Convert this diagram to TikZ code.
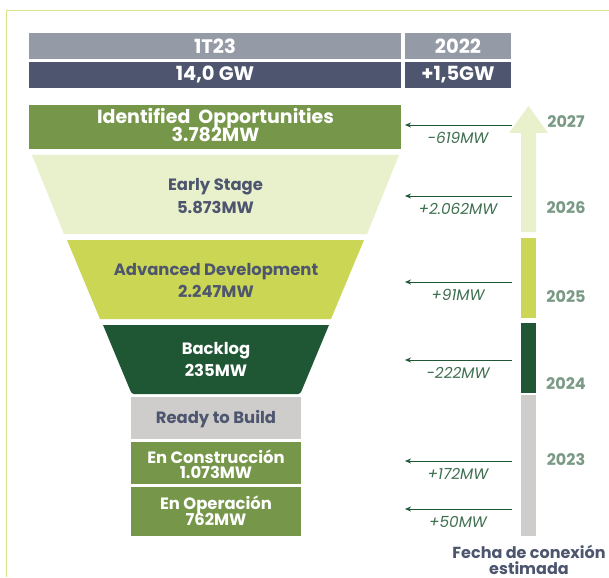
\documentclass[tikz,border=0pt]{standalone}
\usepackage{fontspec}
\setmainfont{Poppins}
\usetikzlibrary{arrows.meta}
\definecolor{hdrgray}{HTML}{959BA6}
\definecolor{hdrdark}{HTML}{4D566E}
\definecolor{olive}{HTML}{76964A}
\definecolor{palegreen}{HTML}{E8F0CC}
\definecolor{limegreen}{HTML}{CBD654}
\definecolor{darkgreen}{HTML}{1F5634}
\definecolor{rtbgray}{HTML}{CFCDCC}
\definecolor{slate}{HTML}{4D566E}
\definecolor{lblgreen}{HTML}{3F7050}
\definecolor{yeargreen}{HTML}{7A9A85}
\definecolor{bordergreen}{HTML}{D6E38F}
\tikzset{
  hdrcell/.style={inner sep=0pt, text=white, font=\bfseries\fontsize{19.5}{21}\selectfont, minimum height=25.7pt},
  stagetxt/.style={inner sep=0pt, font=\bfseries\fontsize{16.4}{18}\selectfont},
  bigtxt/.style={inner sep=0pt, text=white, font=\bfseries\fontsize{19}{21}\selectfont},
  flowarrow/.style={draw=darkgreen, line width=0.8pt, -{Stealth[length=6pt,width=5pt]}},
  flowlbl/.style={inner sep=0pt, text=lblgreen, font=\itshape\fontsize{15.3}{17}\selectfont},
  yearlbl/.style={inner sep=0pt, text=yeargreen, font=\bfseries\fontsize{16}{18}\selectfont},
  notetxt/.style={inner sep=0pt, anchor=base, text=slate, font=\bfseries\fontsize{16}{18}\selectfont},
}
\begin{document}
\begin{tikzpicture}[x=1pt,y=-1pt]
\useasboundingbox (0,0) rectangle (609,577);
\fill[white] (0,0) rectangle (609,577);
\draw[bordergreen, line width=1pt] (6,577) -- (6,11) -- (609,11);
% header
\node[hdrcell, fill=hdrgray, minimum width=372pt] (h1) at (215,45.85) {1T23};
\node[hdrcell, fill=hdrgray, minimum width=106pt] (h2) at (458,45.85) {2022};
\node[hdrcell, fill=hdrdark, minimum width=372pt] (h3) at (215,74.85) {14,0 GW};
\node[hdrcell, fill=hdrdark, minimum width=106pt] (h4) at (458,74.85) {+1,5GW};
% funnel
\fill[olive] (29,105) rectangle (401,149);
\fill[palegreen] (32,155) -- (399,155) -- (367,234) -- (64,234) -- cycle;
\fill[limegreen] (67,240) -- (364,240) -- (331,319) -- (100,319) -- cycle;
\fill[darkgreen] (103,325) -- (329,325) -- (301.5,391) to[out=-110,in=0] (298,394) -- (134,394) to[out=180,in=-70] (130.5,391) -- cycle;
\fill[rtbgray] (131,397) rectangle (301,439);
\fill[olive] (131,442) rectangle (301,484);
\fill[olive] (131,487) rectangle (301,536);
\node[bigtxt] (s1a) at (215.5,118.5) {Identified\ \ Opportunities};
\node[bigtxt] (s1b) at (215.5,135) {3.782MW};
\node[stagetxt, text=slate] (s2a) at (215.5,186.5) {Early Stage};
\node[stagetxt, text=slate] (s2b) at (215.5,207) {5.873MW};
\node[stagetxt, text=slate] (s3a) at (216,271.5) {Advanced Development};
\node[stagetxt, text=slate] (s3b) at (216,291) {2.247MW};
\node[stagetxt, text=white] (s4a) at (216,350.5) {Backlog};
\node[stagetxt, text=white] (s4b) at (216,370.5) {235MW};
\node[stagetxt, text=slate] (s5) at (216,419) {Ready to Build};
\node[stagetxt, text=white] (s6a) at (216,456.5) {En Construcción};
\node[stagetxt, text=white] (s6b) at (216,472.5) {1.073MW};
\node[stagetxt, text=white] (s7a) at (216,504.5) {En Operación};
\node[stagetxt, text=white] (s7b) at (216,519.5) {762MW};
% flow arrows
\foreach \n/\y/\t in {1/125/-619MW, 2/196/+2.062MW, 3/282/+91MW, 4/360/-222MW, 5/461/+172MW, 6/509/+50MW}{
  \coordinate (as\n) at (512,\y);
  \coordinate (ae\n) at (405,\y);
  \draw[flowarrow] (as\n) -- (ae\n);
  \node[flowlbl] (al\n) at (458,\y+12.5) {\t};
}
% timeline
\fill[palegreen] (521,232) -- (521,133) -- (509,133) -- (528.5,106) -- (548,133) -- (536,133) -- (536,232) -- cycle;
\fill[limegreen] (521,238) rectangle (536,318);
\fill[darkgreen] (521,323) rectangle (536,393);
\fill[rtbgray] (521,395) rectangle (536,536);
\node[yearlbl] (y7) at (566,122) {2027};
\node[yearlbl] (y6) at (566,208) {2026};
\node[yearlbl] (y5) at (566,297) {2025};
\node[yearlbl] (y4) at (566,384) {2024};
\node[yearlbl] (y3) at (566,460) {2023};
\node[notetxt] (fc1) at (529,558) {Fecha de conexión};
\node[notetxt] (fc2) at (529,574.5) {estimada};
\end{tikzpicture}
\end{document}
